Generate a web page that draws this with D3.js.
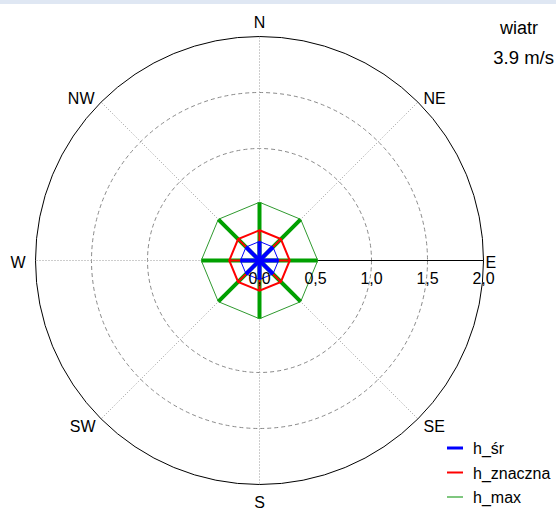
<!DOCTYPE html>
<html>
<head>
<meta charset="utf-8">
<script src="https://cdn.jsdelivr.net/npm/d3@7"></script>
<style>
  body { margin: 0; background: #fff; }
  text { font-family: "Liberation Sans", Arial, sans-serif; fill: #000; }
</style>
</head>
<body>
<div class="svg-container"></div>
<script>
var width = 556;
var height = 510;

// data
var directions = ["N", "NE", "E", "SE", "S", "SW", "W", "NW"];
var hSr = [0.17, 0.17, 0.17, 0.17, 0.17, 0.17, 0.17, 0.17];
var hZnaczna = [0.27, 0.27, 0.27, 0.27, 0.27, 0.27, 0.27, 0.27];
var hMax = [0.52, 0.52, 0.52, 0.52, 0.52, 0.52, 0.52, 0.52];
var radialTicks = [0, 0.5, 1.0, 1.5, 2.0];
var ringValues = [1.0, 1.5];
var seriesNames = ["h_śr", "h_znaczna", "h_max"];
var windLabel = "wiatr";
var windSpeed = "3.9 m/s";

var cx = 259.5, cy = 260.5;

var svg = d3.select(".svg-container")
  .append("svg")
  .attr("width", width)
  .attr("height", height);

// light band at top
svg.append("rect")
  .attr("x", 0).attr("y", 0)
  .attr("width", width).attr("height", 4)
  .attr("fill", "#dfe7f3");

var g = svg.append("g")
  .attr("transform", "translate(" + cx + "," + cy + ")");

var r = d3.scaleLinear().domain([0, 2]).range([0, 224]);

var angle = d3.scalePoint()
  .domain(directions)
  .range([0, 2 * Math.PI * 7 / 8]);

function px(dir, v) { return r(v) * Math.sin(angle(dir)); }
function py(dir, v) { return -r(v) * Math.cos(angle(dir)); }

// dashed rings
g.selectAll(".ring")
  .data(ringValues)
  .enter().append("circle")
  .attr("r", function(d) { return r(d); })
  .attr("fill", "none")
  .attr("stroke", "#8a8a8a")
  .attr("stroke-dasharray", "4,3");

// direction dotted lines
g.selectAll(".spoke")
  .data(directions.filter(function(d) { return d != "E"; }))
  .enter().append("line")
  .attr("x1", 0).attr("y1", 0)
  .attr("x2", function(d) { return px(d, 2); })
  .attr("y2", function(d) { return py(d, 2); })
  .attr("stroke", "#9a9a9a")
  .attr("stroke-dasharray", "1,2");

// outer circle
g.append("circle")
  .attr("r", r(2))
  .attr("fill", "none")
  .attr("stroke", "#000");

// radial axis to E
g.append("line")
  .attr("x1", 0).attr("y1", 0)
  .attr("x2", r(2)).attr("y2", 0)
  .attr("stroke", "#000");

function drawSeries(values, color, spokeWidth, polyWidth, polyColor) {
  var pts = directions.map(function(d, i) { return [px(d, values[i]), py(d, values[i])]; });
  g.append("g").selectAll("line")
    .data(directions)
    .enter().append("line")
    .attr("x1", 0).attr("y1", 0)
    .attr("x2", function(d, i) { return px(d, values[i]); })
    .attr("y2", function(d, i) { return py(d, values[i]); })
    .attr("stroke", color)
    .attr("stroke-width", spokeWidth);
  g.append("path")
    .attr("d", d3.line()(pts) + "Z")
    .attr("fill", "none")
    .attr("stroke", polyColor)
    .attr("stroke-width", polyWidth);
}

drawSeries(hMax, "#00a000", 4, 1, "#2f9a2f");
drawSeries(hZnaczna, "#ff0000", 2, 2, "#ff0000");
drawSeries(hSr, "#0000ff", 4, 1, "#0000ff");

// tick labels
g.selectAll(".tick")
  .data(radialTicks)
  .enter().append("text")
  .attr("x", function(d) { return r(d); })
  .attr("y", 23)
  .attr("text-anchor", "middle")
  .style("font-size", "16px")
  .text(function(d) { return d3.format(".1f")(d).replace(".", ","); });

// compass labels
var labelPos = {
  "N": [0, -233, "middle"], "NE": [164, -157, "start"], "E": [226, 7, "start"],
  "SE": [164, 171, "start"], "S": [0, 247, "middle"], "SW": [-164, 171, "end"],
  "W": [-234, 7, "end"], "NW": [-165, -157, "end"]
};
g.selectAll(".dir")
  .data(directions)
  .enter().append("text")
  .attr("x", function(d) { return labelPos[d][0]; })
  .attr("y", function(d) { return labelPos[d][1]; })
  .attr("text-anchor", function(d) { return labelPos[d][2]; })
  .style("font-size", "16px")
  .text(function(d) { return d; });

// wind info
svg.append("text")
  .attr("x", 538).attr("y", 34)
  .attr("text-anchor", "end")
  .style("font-size", "18px")
  .text(windLabel);
svg.append("text")
  .attr("x", 554).attr("y", 64)
  .attr("text-anchor", "end")
  .style("font-size", "18.5px")
  .text(windSpeed);

// legend
var legendColors = ["#0000ff", "#ff0000", "#55b455"];
var legendWidths = [3, 2, 1.5];
var legend = svg.append("g").selectAll("g")
  .data(seriesNames)
  .enter().append("g")
  .attr("transform", function(d, i) { return "translate(447," + (448 + i * 24.5) + ")"; });
legend.append("line")
  .attr("x1", 0).attr("x2", 16)
  .attr("stroke", function(d, i) { return legendColors[i]; })
  .attr("stroke-width", function(d, i) { return legendWidths[i]; });
legend.append("text")
  .attr("x", 26).attr("y", 6)
  .style("font-size", "16px")
  .text(function(d) { return d; });
</script>
</body>
</html>
